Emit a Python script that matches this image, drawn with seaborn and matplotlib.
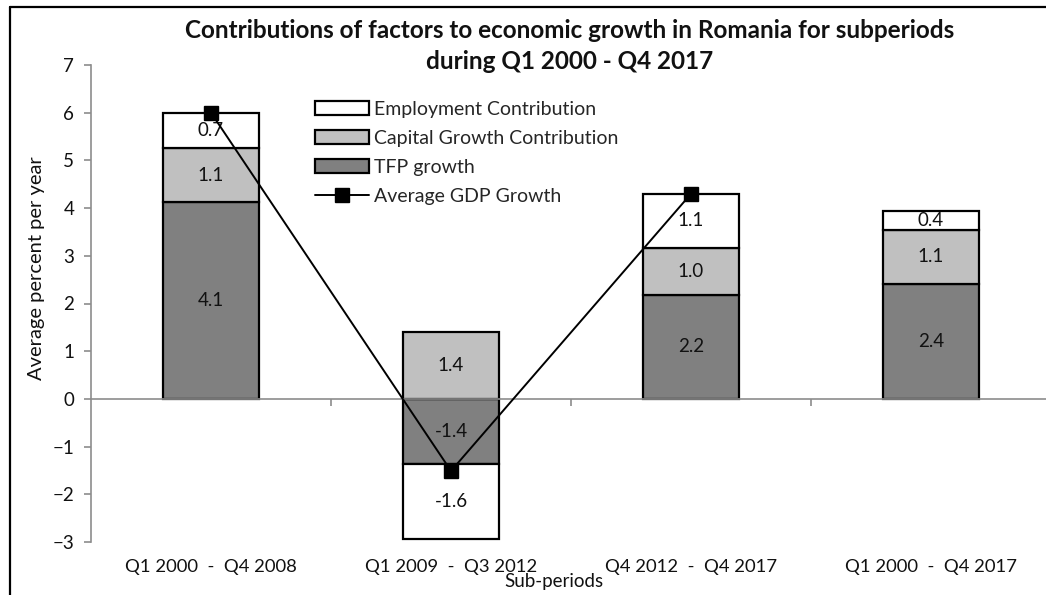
import numpy as np
import pandas as pd
import matplotlib
matplotlib.use('Agg')
import matplotlib.pyplot as plt
from matplotlib.lines import Line2D
from matplotlib.patches import Patch
import seaborn as sns

# data
periods = ['Q1 2000  -  Q4 2008', 'Q1 2009  -  Q3 2012',
           'Q4 2012  -  Q4 2017', 'Q1 2000  -  Q4 2017']
tfp = [4.13, -1.37, 2.18, 2.41]
capital = [1.12, 1.41, 0.98, 1.14]
employment = [0.74, -1.57, 1.14, 0.38]
gdp = [6.0, -1.51, 4.30, np.nan]   # last period has no marker

series_names = ['TFP growth', 'Capital Growth Contribution', 'Employment Contribution']
series_vals = [tfp, capital, employment]
series_cols = ['#808080', '#C0C0C0', '#FFFFFF']

sns.set_theme(style='white')
plt.rcParams['font.family'] = ['Lato', 'DejaVu Sans']

fig = plt.figure(figsize=(10.46, 5.95), dpi=100)
ax = fig.add_axes([91/1046, 1-542/595, 960/1046, (542-65)/595])

# stacking: positives go up from 0, negatives go down from 0
pos_base = np.zeros(len(periods))
neg_base = np.zeros(len(periods))
for name, vals, col in zip(series_names, series_vals, series_cols):
    vals = np.array(vals)
    bottom = np.where(vals >= 0, pos_base, neg_base)
    df = pd.DataFrame({'period': periods, 'value': vals})
    sns.barplot(data=df, x='period', y='value', order=periods,
                bottom=bottom, width=0.4, color=col, saturation=1,
                edgecolor='black', linewidth=1.6, errorbar=None, ax=ax)
    ax.bar_label(ax.containers[-1], labels=[f'{v:.1f}' for v in vals],
                 label_type='center', fontsize=13.5, color='#111111')
    pos_base = pos_base + np.where(vals >= 0, vals, 0)
    neg_base = neg_base + np.where(vals < 0, vals, 0)

# GDP line
ax.plot(range(len(periods)), gdp, color='black', lw=1.4, marker='s',
        markersize=10, zorder=4)

ax.set_ylim(-3, 7)
ax.set_xlim(-0.5, 3.5)
ax.set_yticks(range(-3, 8))
ax.set_xlabel('')
ax.set_ylabel('')

for s in ['top', 'right']:
    ax.spines[s].set_visible(False)
ax.spines['left'].set_color('#8c8c8c')
ax.spines['left'].set_linewidth(1.2)
ax.spines['bottom'].set_position(('data', 0))
ax.spines['bottom'].set_color('#8c8c8c')
ax.spines['bottom'].set_linewidth(1.2)
ax.spines['bottom'].set_zorder(2.5)

ax.tick_params(axis='y', which='major', direction='out', length=5, width=1.2,
               color='#8c8c8c', labelsize=13.5, labelcolor='#111111', pad=7, left=True)
ax.tick_params(axis='x', which='major', length=0, labelsize=13.3,
               labelcolor='#111111', pad=115)
ax.set_xticks([0.5, 1.5, 2.5], minor=True)
ax.tick_params(axis='x', which='minor', direction='out', length=5, width=1.2,
               color='#8c8c8c', bottom=True)

handles = [Patch(facecolor='#FFFFFF', edgecolor='black', linewidth=1.6),
           Patch(facecolor='#C0C0C0', edgecolor='black', linewidth=1.6),
           Patch(facecolor='#808080', edgecolor='black', linewidth=1.6),
           Line2D([], [], color='black', lw=1.4, marker='s', markersize=10)]
labels = ['Employment Contribution', 'Capital Growth Contribution',
          'TFP growth', 'Average GDP Growth']
ax.legend(handles, labels, loc='upper left', bbox_to_anchor=(315/1046, 1-101/595),
          bbox_transform=fig.transFigure, frameon=False, fontsize=14,
          handlelength=2.8, handleheight=0.75, handletextpad=0.25,
          labelspacing=0.62, borderpad=0, borderaxespad=0)

fig.text(570/1046, 1-46/595,
         'Contributions of factors to economic growth in Romania for subperiods\n'
         'during Q1 2000 - Q4 2017',
         ha='center', va='center', fontsize=17.5, fontweight='bold',
         linespacing=1.4, color='#111111')
fig.text(37/1046, 1-268/595, 'Average percent per year', rotation=90,
         ha='center', va='center', fontsize=14.5, color='#111111')
fig.text(554/1046, 1-582/595, 'Sub-periods', ha='center', va='center',
         fontsize=13.5, color='#111111')

# outer frame (left and top edges visible)
fig.add_artist(Line2D([10/1046, 10/1046], [0, 1-7/595], color='black', lw=1.6,
                      transform=fig.transFigure))
fig.add_artist(Line2D([10/1046, 1], [1-7/595, 1-7/595], color='black', lw=1.6,
                      transform=fig.transFigure))

fig.savefig('out.png', dpi=100)
